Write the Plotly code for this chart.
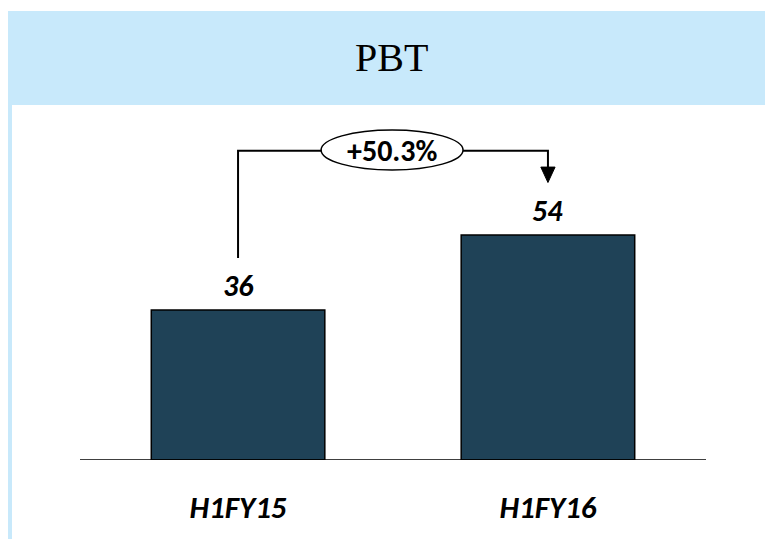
import plotly.graph_objects as go

categories = ["H1FY15", "H1FY16"]
values = [36, 54]
growth_label = "+50.3%"
title_text = "PBT"

# page body has an 8px margin, so the figure is drawn 8px in from the window edge
OFF = 8
W, H = 773 - OFF, 539 - OFF
L, R, T, B = 80 - OFF, 67, 120 - OFF, 79
plot_w = W - L - R
plot_h = H - T - B
y_max = 81.6
x_min, x_max = -0.51, 1.51

def px_x(p):  # reference-window pixel -> paper
    return (p - OFF - L) / plot_w
def px_y(p):
    return (H - B - (p - OFF)) / plot_h

SANS = "Carlito, Lato, sans-serif"

fig = go.Figure()
fig.add_trace(go.Bar(
    x=[0, 1], y=values, width=0.56,
    marker=dict(color="#1F4257", line=dict(color="#000000", width=1.5)),
    hoverinfo="skip",
))

band = "#C8E9FB"
shapes = [
    dict(type="rect", xref="paper", yref="paper", x0=px_x(0), x1=px_x(780), y0=px_y(105), y1=px_y(11),
         fillcolor=band, line=dict(width=0), layer="below"),
    dict(type="rect", xref="paper", yref="paper", x0=px_x(0), x1=px_x(12), y0=px_y(545), y1=px_y(100),
         fillcolor=band, line=dict(width=0), layer="below"),
]

y_top = 74.2
y_start = values[0] + 12.5
y_arrow_base = 70.3
y_tip = 66.6
ell_x0, ell_x1 = 0.268, 0.726
ell_y0, ell_y1 = 69.6, 79.2
lw = dict(color="#000000", width=2)
shapes += [
    dict(type="path", xref="x", yref="y",
         path=f"M 0 {y_start} L 0 {y_top} L {ell_x0} {y_top}", line=lw),
    dict(type="path", xref="x", yref="y",
         path=f"M {ell_x1} {y_top} L 1 {y_top} L 1 {y_arrow_base}", line=lw),
    dict(type="path", xref="x", yref="y",
         path=f"M {1-0.023} {y_arrow_base} L {1+0.023} {y_arrow_base} L 1 {y_tip} Z",
         fillcolor="#000000", line=dict(color="#000000", width=1)),
    dict(type="circle", xref="x", yref="y", x0=ell_x0, x1=ell_x1, y0=ell_y0, y1=ell_y1,
         fillcolor="#FFFFFF", line=dict(color="#000000", width=1.5)),
    dict(type="line", xref="x", yref="y", x0=x_min, x1=x_max, y0=0, y1=0,
         line=dict(color="#000000", width=1.5)),
]

annotations = [
    dict(text=title_text, xref="paper", yref="paper", x=px_x(391), y=px_y(57),
         xanchor="center", yanchor="middle",
         showarrow=False, font=dict(family="Liberation Serif", size=40, color="#000000")),
    dict(text=growth_label, xref="x", yref="y", x=(ell_x0 + ell_x1) / 2, y=(ell_y0 + ell_y1) / 2,
         xanchor="center", yanchor="middle",
         showarrow=False, font=dict(family=SANS, size=30, color="#000000", weight="bold")),
]
for i, v in enumerate(values):
    annotations.append(dict(
        text=str(v), xref="x", yref="y", x=i, y=v, xanchor="center", yanchor="bottom", yshift=4,
        showarrow=False,
        font=dict(family=SANS, size=30, color="#000000", weight="bold", style="italic")))

fig.update_layout(
    width=W, height=H,
    margin=dict(l=L, r=R, t=T, b=B, pad=0),
    paper_bgcolor="#FFFFFF", plot_bgcolor="rgba(0,0,0,0)",
    showlegend=False,
    xaxis=dict(range=[x_min, x_max], tickmode="array", tickvals=[0, 1], ticktext=categories,
               showgrid=False, zeroline=False, showline=False, ticks="", ticklen=0,
               tickfont=dict(family=SANS, size=31, color="#000000", weight="bold", style="italic"),
               fixedrange=True),
    yaxis=dict(range=[0, y_max], visible=False, showgrid=False, zeroline=False, fixedrange=True),
    shapes=shapes, annotations=annotations,
)
fig.update_xaxes(ticklabelstandoff=26)

fig.write_html("out.html")
